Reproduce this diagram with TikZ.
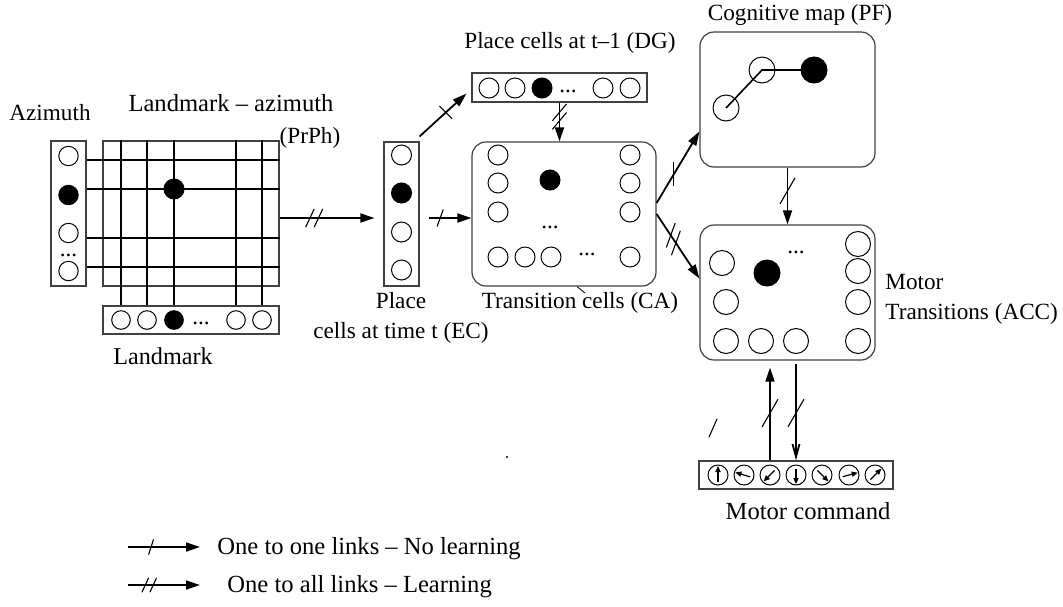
\documentclass[tikz,border=0pt]{standalone}
\usepackage{fontspec}
\setmainfont{Liberation Serif}
\usetikzlibrary{arrows.meta,calc}

\tikzset{
  cell/.style={circle,draw,inner sep=0pt,minimum size=10pt,line width=0.5pt},
  layer/.style={draw=black!75,line width=0.6pt,inner sep=0pt},
  area/.style={layer,rounded corners=7pt},
  gridline/.style={line width=0.6pt},
  link/.style={line width=0.9pt,-{Triangle[length=7pt,width=4.5pt]}},
  tickline/.style={line width=0.55pt},
  lbl/.style={inner sep=0pt},
  biglbl/.style={lbl,font=\fontsize{12.3pt}{15pt}\selectfont},
  dots/.style={inner sep=0pt}
}

% one slash across a link: centre, angle, half length
\newcommand\tickmark[3]{\draw[tickline] ($(#1)+(#2:#3)$) -- ($(#1)-(#2:#3)$);}

\begin{document}
\begin{tikzpicture}[x=0.5pt,y=-0.5pt,font=\fontsize{11.6pt}{15pt}\selectfont]
\useasboundingbox (0,0) rectangle (1063,606);

% landmark - azimuth
\node[layer,minimum width=17.5pt,minimum height=72.5pt] (az) at (68.5,213.5) {};
\node[layer,minimum width=88pt,minimum height=72.5pt] (grid) at (191,213.5) {};
\node[layer,minimum width=88pt,minimum height=14pt] (lm) at (191,320) {};

\foreach \n/\y/\f in {a1/156/white,a2/195/black,a3/233/white,a4/271/white}
  \node[cell,fill=\f,minimum size=9.7pt] (\n) at (68.5,\y) {};
\node[dots] (adots) at (68.5,255) {...};

\foreach \n/\x/\f in {l1/121/white,l2/147/white,l3/174/black,l4/236/white,l5/262/white}
  \node[cell,fill=\f,minimum size=9.3pt] (\n) at (\x,320) {};
\node[dots] (ldots) at (201,323) {...};

\foreach \n in {l1,l2,l3,l4,l5}
  \draw[gridline] (\n |- grid.north) -- (\n |- lm.north);
\foreach \gy in {160,189,238,267} {
  \path (0,\gy) coordinate (hy);
  \draw[gridline] (az.east |- hy) -- (grid.east |- hy);
}
\node[cell,fill=black] (gon) at (174,189) {};

\node[lbl] (azlbl) at (50,113) {Azimuth};
\node[biglbl] (prlbl) at (231,103) {Landmark -- azimuth};
\node[lbl] (prphlbl) at (310,138) {(PrPh)};
\node[lbl,font=\fontsize{12.1pt}{15pt}\selectfont] (lmlbl) at (163,356) {Landmark};

% place cells at time t
\node[layer,minimum width=17.5pt,minimum height=72pt] (ec) at (401.5,214) {};
\foreach \n/\y/\f in {e1/155/white,e2/193/black,e3/232/white,e4/270/white}
  \node[cell,fill=\f] (\n) at (401.5,\y) {};
\node[lbl,align=center] (eclbl) at (401,318) {Place\\cells at time t (EC)};

% place cells at t-1
\node[layer,minimum width=87.5pt,minimum height=14.5pt] (dg) at (559.5,87.5) {};
\foreach \n/\x/\f in {d1/489/white,d2/515/white,d3/542/black,d4/603/white,d5/630/white}
  \node[cell,fill=\f] (\n) at (\x,88) {};
\node[dots] (ddots) at (568,91) {...};
\node[lbl] (dglbl) at (570,43) {Place cells at t--1 (DG)};

% transition cells
\node[area,minimum width=92pt,minimum height=72pt] (ca) at (564,214) {};
\foreach \n/\x/\y in {c1/498/155,c2/498/183,c3/498/212,r1/630/155,r2/630/183,r3/630/212,
    b1/498/257,b2/525/257,b3/551/257,b4/630/257}
  \node[cell] (\n) at (\x,\y) {};
\node[cell,fill=black] (con) at (550,180) {};
\node[dots] (cdots) at (550,227) {...};
\node[dots] (bdots) at (587,254) {...};
\node[lbl] (calbl) at (580,303) {Transition cells (CA)};
\draw[line width=0.4pt] (ca.south -| 577,0) -- (585,293);

% cognitive map
\node[area,minimum width=87.5pt,minimum height=67.5pt] (pf) at (787.5,99.5) {};
\node[cell,minimum size=13pt] (p1) at (726,108) {};
\node[cell,minimum size=13pt] (p2) at (762,70) {};
\node[cell,minimum size=13pt,fill=black] (p3) at (814,70) {};
\draw[line width=0.8pt] (p1.center) -- (p2.center) -- (p3.center);
\node[lbl] (pflbl) at (800,15) {Cognitive map (PF)};

% motor transitions
\node[area,minimum width=87.5pt,minimum height=67.5pt] (acc) at (787.5,292.5) {};
\foreach \n/\x/\y in {q1/722/263,q2/726/302,q3/726/341,q4/761/341,q5/796/341,
    s1/858/244,s2/858/271,s3/858/302,s4/858/341}
  \node[cell,minimum size=12.5pt] (\n) at (\x,\y) {};
\node[cell,minimum size=13pt,fill=black] (qon) at (767,273) {};
\node[dots] (qdots) at (796,252) {...};
\node[lbl,align=left,anchor=west] (acclbl) at (885,299) {Motor\\Transitions (ACC)};

% motor command
\node[layer,minimum width=97pt,minimum height=14pt] (mot) at (796,475) {};
\foreach \n/\x/\a in {m1/718/-90,m2/744/197,m3/770/135,m4/796/90,m5/822/45,m6/849/-15,m7/875/-45} {
  \node[cell] (\n) at (\x,475) {};
  \draw[line width=0.6pt,-{Triangle[length=3pt,width=2.6pt]}]
    ($(\n)+(\a+180:6.5)$) -- ($(\n)+(\a:9)$);
}
\node[biglbl] (motlbl) at (808,511) {Motor command};

% links
\draw[link] ([yshift=-2.25pt]grid.east) -- ([xshift=-4.5pt,yshift=-2pt]ec.west)
  coordinate[pos=.32] (k1) coordinate[pos=.41] (k2);
\draw[link] ([xshift=4.5pt,yshift=-2pt]ec.east) -- ([yshift=-2pt]ca.west)
  coordinate[pos=.27] (k3);
\draw[link] ([yshift=2.5pt]ec.north east) -- ([xshift=-2.5pt,yshift=4.5pt]dg.south west)
  coordinate[pos=.56] (k4);
\draw[link] (dg.south) -- (dg.south |- ca.north)
  coordinate[pos=.25] (k5) coordinate[pos=.47] (k6);
\draw[link] ([yshift=5.5pt]ca.east) -- ([yshift=-16pt]pf.west)
  coordinate[pos=.4] (k7);
\draw[link] (ca.east) -- ([yshift=7pt]acc.west)
  coordinate[pos=.33] (k8) coordinate[pos=.45] (k9);
\draw[link] (pf.south) -- (pf.south |- acc.north)
  coordinate[pos=.41] (k10);

\coordinate (upend) at ($(m3 |- acc.south)+(0,-3.5pt)$);
\coordinate (dnstart) at ($(m4 |- acc.south)+(0,-1.5pt)$);
\draw[link] (m3 |- mot.north) -- (upend) coordinate[pos=.51] (k11);
\draw[line width=0.9pt,-{Straight Barb[length=6.5pt,width=3.5pt]}] (dnstart) -- (m4 |- mot.north)
  coordinate[pos=.51] (k12);

\tickmark{k1}{-65}{10}
\tickmark{k2}{-65}{10}
\tickmark{k3}{-70}{9}
\tickmark{k4}{45}{9}
\tickmark{k5}{-50}{11}
\tickmark{k6}{-50}{11}
\tickmark{k7}{-90}{12}
\tickmark{k8}{-70}{13}
\tickmark{k9}{-70}{13}
\tickmark{k10}{-60}{15}
\tickmark{k11}{-60}{16}
\tickmark{k12}{-60}{16}
\tickmark{713,428}{-66}{10}
\fill (507,457) circle (1.2);

% legend
\node[biglbl,anchor=west] (leg1) at (217,549) {One to one links -- No learning};
\node[biglbl,anchor=west] (leg2) at (227,587) {One to all links -- Learning};
\coordinate (leg1s) at (128,547);
\coordinate (leg2s) at (128,585);
\draw[link] (leg1s) -- (leg1s -| 200,0) coordinate[pos=.32] (k13);
\draw[link] (leg2s) -- (leg2s -| 200,0) coordinate[pos=.24] (k14) coordinate[pos=.35] (k15);
\tickmark{k13}{-72}{8}
\tickmark{k14}{-65}{8}
\tickmark{k15}{-65}{8}

\end{tikzpicture}
\end{document}
